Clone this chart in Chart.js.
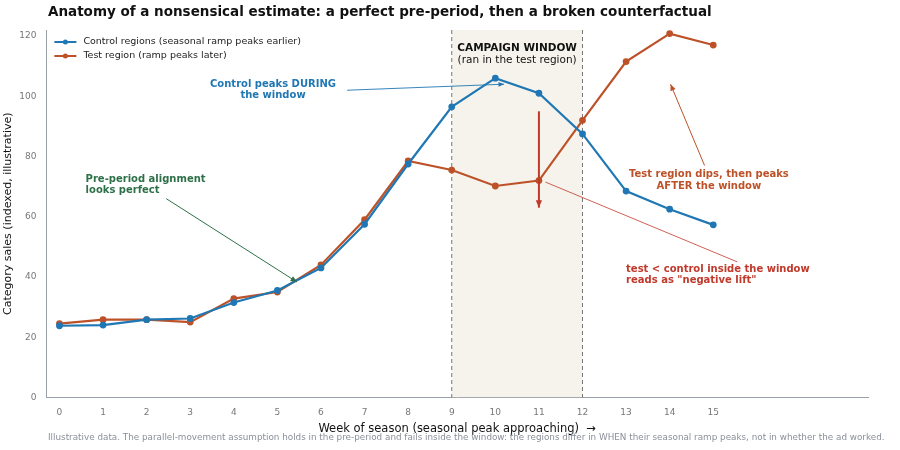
<!DOCTYPE html>
<html><head><meta charset="utf-8">
<script src="https://cdn.jsdelivr.net/npm/chart.js@4"></script>
<style>body{margin:0;background:#fff}#wrap{width:900px;height:450px}</style>
</head><body><div id="wrap"><canvas id="c"></canvas></div>
<script>
var weeks = [0,1,2,3,4,5,6,7,8,9,10,11,12,13,14,15];
var control = [23.8,24,25.8,26.2,31.5,35.5,43,57.5,77.5,96.5,106,101,87.5,68.5,62.5,57.3];
var test = [24.5,25.8,25.8,25,32.8,35,44,59,78.5,75.5,70.2,72,92,111.5,120.8,117];
var yTicks = [0,20,40,60,80,100,120];
var seriesNames = ["Control regions (seasonal ramp peaks earlier)", "Test region (ramp peaks later)"];
var BLUE = "#1f77b4", ORANGE = "#bd5128", RED = "#c0392b", GREEN = "#2e7048";
var FONT = "DejaVu Sans";

function arrow(ctx, x1, y1, x2, y2, color, w, head) {
  ctx.save();
  ctx.strokeStyle = color; ctx.fillStyle = color; ctx.lineWidth = w;
  ctx.beginPath(); ctx.moveTo(x1, y1); ctx.lineTo(x2, y2); ctx.stroke();
  if (head) {
    var a = Math.atan2(y2 - y1, x2 - x1);
    ctx.beginPath();
    ctx.moveTo(x2, y2);
    ctx.lineTo(x2 - head * Math.cos(a - 0.4), y2 - head * Math.sin(a - 0.4));
    ctx.lineTo(x2 - head * Math.cos(a + 0.4), y2 - head * Math.sin(a + 0.4));
    ctx.closePath(); ctx.fill();
  }
  ctx.restore();
}
function txt(ctx, s, x, y, color, font, align) {
  ctx.save(); ctx.fillStyle = color; ctx.font = font; ctx.textAlign = align || "left";
  ctx.textBaseline = "middle"; ctx.fillText(s, x, y); ctx.restore();
}

var deco = {
  id: "deco",
  beforeDatasetsDraw: function (chart) {
    var ctx = chart.ctx, xs = chart.scales.x, a = chart.chartArea;
    var x9 = xs.getPixelForValue(9), x12 = xs.getPixelForValue(12);
    ctx.save();
    ctx.fillStyle = "rgba(226,220,200,0.35)";
    ctx.fillRect(x9, a.top, x12 - x9, a.bottom - a.top);
    ctx.strokeStyle = "#777"; ctx.lineWidth = 1; ctx.setLineDash([4, 3]);
    [x9, x12].forEach(function (x) { ctx.beginPath(); ctx.moveTo(x, a.top); ctx.lineTo(x, a.bottom); ctx.stroke(); });
    ctx.restore();
  },
  afterDatasetsDraw: function (chart) {
    var ctx = chart.ctx, xs = chart.scales.x, ys = chart.scales.y, a = chart.chartArea;
    var X = function (v) { return xs.getPixelForValue(v); }, Y = function (v) { return ys.getPixelForValue(v); };
    var B = "bold 10px " + FONT;
    // legend
    [BLUE, ORANGE].forEach(function (c, i) {
      var ly = a.top + 12 + i * 14;
      ctx.save(); ctx.strokeStyle = c; ctx.fillStyle = c; ctx.lineWidth = 2;
      ctx.beginPath(); ctx.moveTo(a.left + 8, ly); ctx.lineTo(a.left + 30, ly); ctx.stroke();
      ctx.beginPath(); ctx.arc(a.left + 19, ly, 2.5, 0, Math.PI * 2); ctx.fill(); ctx.restore();
      txt(ctx, seriesNames[i], a.left + 37, ly, "#222", "9.5px " + FONT);
    });
    txt(ctx, "CAMPAIGN WINDOW", X(10.5), Y(116), "#111", "bold 10.5px " + FONT, "center");
    txt(ctx, "(ran in the test region)", X(10.5), Y(112), "#111", "10.5px " + FONT, "center");
    txt(ctx, "Control peaks DURING", X(4.9), Y(104), BLUE, B, "center");
    txt(ctx, "the window", X(4.9), Y(100.3), BLUE, B, "center");
    arrow(ctx, X(6.6), Y(102), X(10.2), Y(104), BLUE, 0.9, 6);
    txt(ctx, "Pre-period alignment", X(0.6), Y(72.5), GREEN, B);
    txt(ctx, "looks perfect", X(0.6), Y(68.8), GREEN, B);
    arrow(ctx, X(2.45), Y(66), X(5.45), Y(38.3), GREEN, 1, 7);
    arrow(ctx, X(11), Y(95), X(11), Y(63), RED, 2, 8);
    txt(ctx, "Test region dips, then peaks", X(14.9), Y(74), ORANGE, B, "center");
    txt(ctx, "AFTER the window", X(14.9), Y(70.2), ORANGE, B, "center");
    arrow(ctx, X(14.8), Y(77), X(14.02), Y(104), ORANGE, 1, 7);
    txt(ctx, "test < control inside the window", X(13), Y(42.5), RED, B);
    txt(ctx, "reads as \"negative lift\"", X(13), Y(38.8), RED, B);
    arrow(ctx, X(15.55), Y(45), X(11.15), Y(71.5), RED, 0.8, 0);
  },
  afterDraw: function (chart) {
    var ctx = chart.ctx;
    txt(ctx, "Anatomy of a nonsensical estimate: a perfect pre-period, then a broken counterfactual", 48, 12, "#111", "bold 13.5px " + FONT);
    txt(ctx, "Illustrative data. The parallel-movement assumption holds in the pre-period and fails inside the window: the regions differ in WHEN their seasonal ramp peaks, not in whether the ad worked.", 48, 438, "#8a8f99", "8.8px " + FONT);
  }
};

new Chart(document.getElementById("c"), {
  type: "line",
  data: {
    labels: weeks,
    datasets: [
      { label: seriesNames[0], data: weeks.map(function (w, i) { return { x: w, y: control[i] }; }),
        borderColor: BLUE, backgroundColor: BLUE, borderWidth: 2.2, pointRadius: 2.3, tension: 0 },
      { label: seriesNames[1], data: weeks.map(function (w, i) { return { x: w, y: test[i] }; }),
        borderColor: ORANGE, backgroundColor: ORANGE, borderWidth: 2.2, pointRadius: 2.3, tension: 0 }
    ]
  },
  options: {
    responsive: true, maintainAspectRatio: false, animation: false,
    layout: { padding: { top: 30, right: 32, bottom: 14, left: 0 } },
    plugins: { legend: { display: false }, tooltip: { enabled: false } },
    scales: {
      x: { type: "linear", min: -0.3, max: 18.55, grid: { display: false },
        border: { color: "#9aa0aa" },
        afterBuildTicks: function (s) { s.ticks = weeks.map(function (v) { return { value: v }; }); },
        ticks: { color: "#777", padding: 2, font: { family: FONT, size: 9 } },
        title: { display: true, text: "Week of season (seasonal peak approaching)  →", color: "#111", padding: { top: 2, bottom: 0 }, font: { family: FONT, size: 11.5 } } },
      y: { min: 0, max: 122, grid: { display: false }, border: { color: "#9aa0aa" },
        afterBuildTicks: function (s) { s.ticks = yTicks.map(function (v) { return { value: v }; }); },
        ticks: { color: "#777", padding: 2, font: { family: FONT, size: 9 } },
        title: { display: true, text: "Category sales (indexed, illustrative)", color: "#111", padding: 2, font: { family: FONT, size: 11 } } }
    }
  },
  plugins: [deco]
});
</script></body></html>
